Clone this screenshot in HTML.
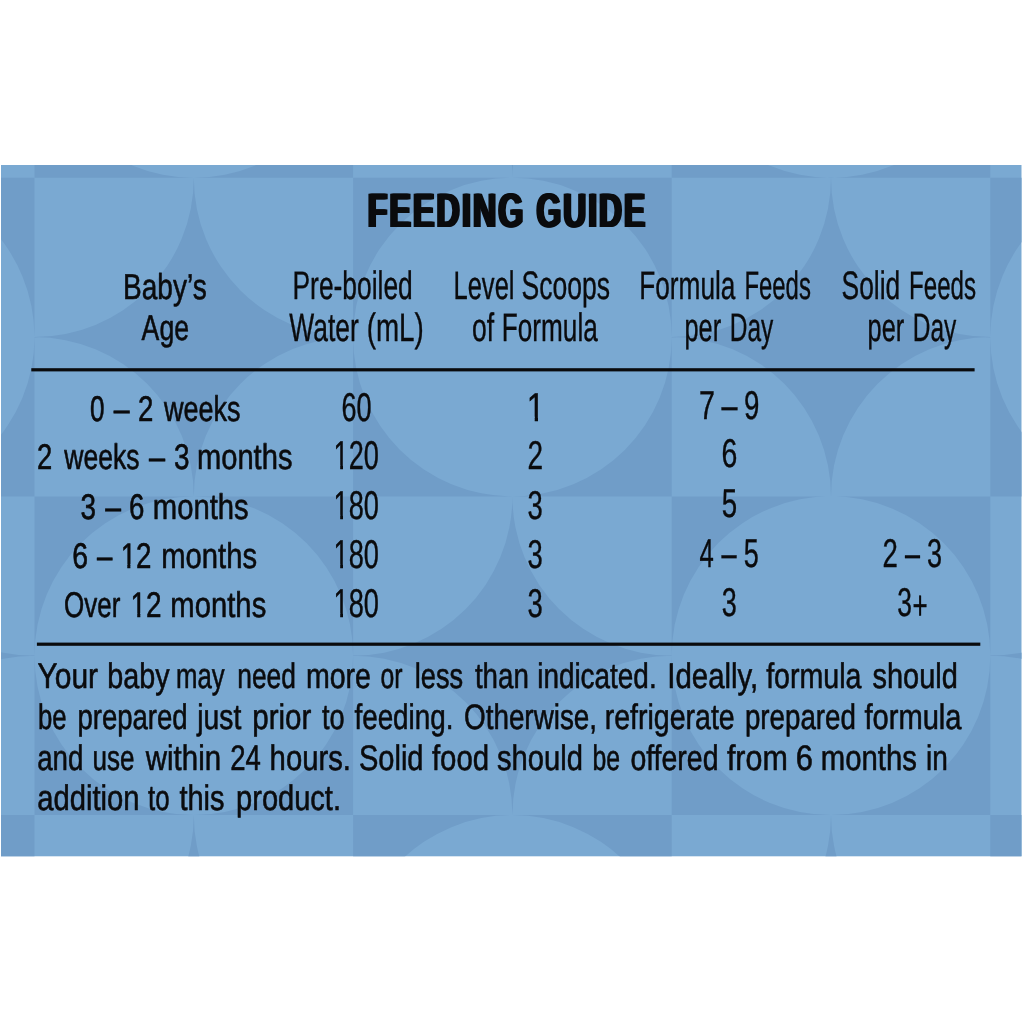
<!DOCTYPE html>
<html lang="en">
<head>
<meta charset="utf-8">
<title>Feeding Guide</title>
<style>
html,body{margin:0;padding:0;background:#fff;}
body{width:1024px;height:1024px;overflow:hidden;}
svg{display:block;font-family:"Liberation Sans",sans-serif;text-rendering:geometricPrecision;}
</style>
</head>
<body>
<svg width="1024" height="1024" viewBox="0 0 1024 1024">
<defs><clipPath id="panel"><rect x="1" y="165" width="1020.5" height="691.3"/></clipPath>
<clipPath id="ca4"><path clip-rule="evenodd" d="M0 507.7H1024V597.7H0ZM121.18 564.13H127.3V570.7H121.18ZM130.35 564.13H135.86V570.7H130.35Z"/></clipPath>
<clipPath id="ca5"><path clip-rule="evenodd" d="M0 556.8H1024V646.8H0ZM131.06 613.23H137.24V619.8H131.06ZM140.3 613.23H145.85V619.8H140.3Z"/></clipPath>
<clipPath id="cw2"><path clip-rule="evenodd" d="M0 408.7H1024V498.7H0ZM334.12 464.9H340.21V471.7H334.12ZM343.01 464.9H348.49V471.7H343.01Z"/></clipPath>
<clipPath id="cw3"><path clip-rule="evenodd" d="M0 458.5H1024V548.5H0ZM334.12 514.7H340.21V521.5H334.12ZM343.01 514.7H348.49V521.5H343.01Z"/></clipPath>
<clipPath id="cw4"><path clip-rule="evenodd" d="M0 507.7H1024V597.7H0ZM334.12 563.9H340.21V570.7H334.12ZM343.01 563.9H348.49V570.7H343.01Z"/></clipPath>
<clipPath id="cw5"><path clip-rule="evenodd" d="M0 556.8H1024V646.8H0ZM334.12 613H340.21V619.8H334.12ZM343.01 613H348.49V619.8H343.01Z"/></clipPath>
<clipPath id="cs1"><path clip-rule="evenodd" d="M0 360.6H1024V450.6H0ZM527.41 416.8H534.73V423.6H527.41ZM538 416.8H544.59V423.6H538Z"/></clipPath>
</defs>
<rect x="1" y="165" width="1020.5" height="691.3" fill="#7aa9d2"/>
<g clip-path="url(#panel)"><path fill="#709dc8" fill-rule="evenodd" d="M-124.8 -140.8A159.3 159.3 0 0 0 34.5 18.5A159.3 159.3 0 0 0 -124.8 177.8A159.3 159.3 0 0 0 -284.1 18.5A159.3 159.3 0 0 0 -124.8 -140.8ZM34.5 -140.8H353.1V177.8H34.5ZM34.5 18.5A159.3 159.3 0 1 0 353.1 18.5A159.3 159.3 0 1 0 34.5 18.5ZM512.4 -140.8A159.3 159.3 0 0 0 671.7 18.5A159.3 159.3 0 0 0 512.4 177.8A159.3 159.3 0 0 0 353.1 18.5A159.3 159.3 0 0 0 512.4 -140.8ZM671.7 -140.8H990.3V177.8H671.7ZM671.7 18.5A159.3 159.3 0 1 0 990.3 18.5A159.3 159.3 0 1 0 671.7 18.5ZM1149.6 -140.8A159.3 159.3 0 0 0 1308.9 18.5A159.3 159.3 0 0 0 1149.6 177.8A159.3 159.3 0 0 0 990.3 18.5A159.3 159.3 0 0 0 1149.6 -140.8ZM-284.1 177.8H34.5V496.4H-284.1ZM-284.1 337.1A159.3 159.3 0 1 0 34.5 337.1A159.3 159.3 0 1 0 -284.1 337.1ZM193.8 177.8A159.3 159.3 0 0 0 353.1 337.1A159.3 159.3 0 0 0 193.8 496.4A159.3 159.3 0 0 0 34.5 337.1A159.3 159.3 0 0 0 193.8 177.8ZM353.1 177.8H671.7V496.4H353.1ZM353.1 337.1A159.3 159.3 0 1 0 671.7 337.1A159.3 159.3 0 1 0 353.1 337.1ZM831 177.8A159.3 159.3 0 0 0 990.3 337.1A159.3 159.3 0 0 0 831 496.4A159.3 159.3 0 0 0 671.7 337.1A159.3 159.3 0 0 0 831 177.8ZM990.3 177.8H1308.9V496.4H990.3ZM990.3 337.1A159.3 159.3 0 1 0 1308.9 337.1A159.3 159.3 0 1 0 990.3 337.1ZM-124.8 496.4A159.3 159.3 0 0 0 34.5 655.7A159.3 159.3 0 0 0 -124.8 815A159.3 159.3 0 0 0 -284.1 655.7A159.3 159.3 0 0 0 -124.8 496.4ZM34.5 496.4H353.1V815H34.5ZM34.5 655.7A159.3 159.3 0 1 0 353.1 655.7A159.3 159.3 0 1 0 34.5 655.7ZM512.4 496.4A159.3 159.3 0 0 0 671.7 655.7A159.3 159.3 0 0 0 512.4 815A159.3 159.3 0 0 0 353.1 655.7A159.3 159.3 0 0 0 512.4 496.4ZM671.7 496.4H990.3V815H671.7ZM671.7 655.7A159.3 159.3 0 1 0 990.3 655.7A159.3 159.3 0 1 0 671.7 655.7ZM1149.6 496.4A159.3 159.3 0 0 0 1308.9 655.7A159.3 159.3 0 0 0 1149.6 815A159.3 159.3 0 0 0 990.3 655.7A159.3 159.3 0 0 0 1149.6 496.4ZM-284.1 815H34.5V1133.6H-284.1ZM-284.1 974.3A159.3 159.3 0 1 0 34.5 974.3A159.3 159.3 0 1 0 -284.1 974.3ZM193.8 815A159.3 159.3 0 0 0 353.1 974.3A159.3 159.3 0 0 0 193.8 1133.6A159.3 159.3 0 0 0 34.5 974.3A159.3 159.3 0 0 0 193.8 815ZM353.1 815H671.7V1133.6H353.1ZM353.1 974.3A159.3 159.3 0 1 0 671.7 974.3A159.3 159.3 0 1 0 353.1 974.3ZM831 815A159.3 159.3 0 0 0 990.3 974.3A159.3 159.3 0 0 0 831 1133.6A159.3 159.3 0 0 0 671.7 974.3A159.3 159.3 0 0 0 831 815ZM990.3 815H1308.9V1133.6H990.3ZM990.3 974.3A159.3 159.3 0 1 0 1308.9 974.3A159.3 159.3 0 1 0 990.3 974.3Z"/></g>
<g fill="#0b0b0d" stroke="#0b0b0d" stroke-width="0" stroke-linejoin="round" opacity="0.999">
<rect x="31.3" y="368.2" width="943.3" height="3.2"/><rect x="36.9" y="642.6" width="943.4" height="3.2"/>
<g style="filter:drop-shadow(1.25px 0 0 #0b0b0d) drop-shadow(-1.25px 0 0 #0b0b0d)"><text y="226.8" font-size="48.3" font-weight="bold" letter-spacing="3.14"><tspan x="368.31" textLength="157.51" lengthAdjust="spacingAndGlyphs">FEEDING</tspan> <tspan x="537.08" textLength="110.7" lengthAdjust="spacingAndGlyphs">GUIDE</tspan></text></g>
<text x="123.06" y="299" font-size="36" textLength="83.68" lengthAdjust="spacingAndGlyphs" stroke-width="0.6">Baby’s</text>
<text x="141.6" y="339.8" font-size="36" textLength="47.45" lengthAdjust="spacingAndGlyphs" stroke-width="0.6">Age</text>
<text x="292.49" y="299" font-size="39.8" textLength="120.32" lengthAdjust="spacingAndGlyphs" stroke-width="0.4">Pre-boiled</text>
<text y="341.1" font-size="39.8" stroke-width="0.4"><tspan x="289.32" textLength="69.41" lengthAdjust="spacingAndGlyphs">Water</tspan> <tspan x="366.63" textLength="57.09" lengthAdjust="spacingAndGlyphs">(mL)</tspan></text>
<text y="299" font-size="39.8" stroke-width="0.4"><tspan x="453.46" textLength="61.08" lengthAdjust="spacingAndGlyphs">Level</tspan> <tspan x="521.46" textLength="88.58" lengthAdjust="spacingAndGlyphs">Scoops</tspan></text>
<text y="341.1" font-size="39.8" stroke-width="0.4"><tspan x="471.94" textLength="22.1" lengthAdjust="spacingAndGlyphs">of</tspan> <tspan x="501.86" textLength="95.89" lengthAdjust="spacingAndGlyphs">Formula</tspan></text>
<text y="299" font-size="39.8" stroke-width="0.4"><tspan x="639.2" textLength="96.25" lengthAdjust="spacingAndGlyphs">Formula</tspan> <tspan x="744.39" textLength="66.5" lengthAdjust="spacingAndGlyphs">Feeds</tspan></text>
<text y="341.1" font-size="39.8" stroke-width="0.4"><tspan x="684.48" textLength="36.62" lengthAdjust="spacingAndGlyphs">per</tspan> <tspan x="729.74" textLength="43.48" lengthAdjust="spacingAndGlyphs">Day</tspan></text>
<text y="299" font-size="39.8" stroke-width="0.4"><tspan x="841.57" textLength="58.71" lengthAdjust="spacingAndGlyphs">Solid</tspan> <tspan x="908.97" textLength="67.12" lengthAdjust="spacingAndGlyphs">Feeds</tspan></text>
<text y="341.1" font-size="39.8" stroke-width="0.4"><tspan x="867.58" textLength="36.62" lengthAdjust="spacingAndGlyphs">per</tspan> <tspan x="912.84" textLength="43.48" lengthAdjust="spacingAndGlyphs">Day</tspan></text>
<text y="420.6" font-size="35.7" stroke-width="0.6"><tspan x="89.93" textLength="14.52" lengthAdjust="spacingAndGlyphs">0</tspan> <tspan x="113.7" textLength="15.89" lengthAdjust="spacingAndGlyphs">–</tspan> <tspan x="138.01" textLength="15.36" lengthAdjust="spacingAndGlyphs">2</tspan> <tspan x="163.9" textLength="76.53" lengthAdjust="spacingAndGlyphs">weeks</tspan></text>
<text y="468.7" font-size="35.7" stroke-width="0.6"><tspan x="37.02" textLength="15.24" lengthAdjust="spacingAndGlyphs">2</tspan> <tspan x="64.3" textLength="75.21" lengthAdjust="spacingAndGlyphs">weeks</tspan> <tspan x="149" textLength="16.09" lengthAdjust="spacingAndGlyphs">–</tspan> <tspan x="173.98" textLength="15.51" lengthAdjust="spacingAndGlyphs">3</tspan> <tspan x="196.96" textLength="95.49" lengthAdjust="spacingAndGlyphs">months</tspan></text>
<text y="518.5" font-size="35.7" stroke-width="0.6"><tspan x="80.48" textLength="15.51" lengthAdjust="spacingAndGlyphs">3</tspan> <tspan x="105.3" textLength="15.79" lengthAdjust="spacingAndGlyphs">–</tspan> <tspan x="129.11" textLength="15.38" lengthAdjust="spacingAndGlyphs">6</tspan> <tspan x="152.75" textLength="96.01" lengthAdjust="spacingAndGlyphs">months</tspan></text>
<text y="567.7" font-size="35.7" stroke-width="0.6" clip-path="url(#ca4)"><tspan x="72.17" textLength="15.85" lengthAdjust="spacingAndGlyphs">6</tspan> <tspan x="97.1" textLength="15.4" lengthAdjust="spacingAndGlyphs">–</tspan> <tspan x="120.63" textLength="30.83" lengthAdjust="spacingAndGlyphs">12</tspan> <tspan x="161.15" textLength="95.91" lengthAdjust="spacingAndGlyphs">months</tspan></text>
<text y="616.8" font-size="35.7" stroke-width="0.6" clip-path="url(#ca5)"><tspan x="64.09" textLength="56.37" lengthAdjust="spacingAndGlyphs">Over</tspan> <tspan x="130.51" textLength="31.06" lengthAdjust="spacingAndGlyphs">12</tspan> <tspan x="170.35" textLength="95.91" lengthAdjust="spacingAndGlyphs">months</tspan></text>
<text x="341.54" y="420.6" font-size="40.2" textLength="30.12" lengthAdjust="spacingAndGlyphs" stroke-width="0.4">60</text>
<text x="333.59" y="468.7" font-size="40.2" textLength="45.26" lengthAdjust="spacingAndGlyphs" stroke-width="0.4" clip-path="url(#cw2)">120</text>
<text x="333.59" y="518.5" font-size="40.2" textLength="45.26" lengthAdjust="spacingAndGlyphs" stroke-width="0.4" clip-path="url(#cw3)">180</text>
<text x="333.59" y="567.7" font-size="40.2" textLength="45.26" lengthAdjust="spacingAndGlyphs" stroke-width="0.4" clip-path="url(#cw4)">180</text>
<text x="333.59" y="616.8" font-size="40.2" textLength="45.26" lengthAdjust="spacingAndGlyphs" stroke-width="0.4" clip-path="url(#cw5)">180</text>
<text x="526.78" y="420.6" font-size="40.2" textLength="18.04" lengthAdjust="spacingAndGlyphs" stroke-width="0.4" clip-path="url(#cs1)">1</text>
<text x="527.39" y="468.7" font-size="40.2" textLength="15.6" lengthAdjust="spacingAndGlyphs" stroke-width="0.4">2</text>
<text x="527.6" y="518.5" font-size="40.2" textLength="15.28" lengthAdjust="spacingAndGlyphs" stroke-width="0.4">3</text>
<text x="527.6" y="567.7" font-size="40.2" textLength="15.28" lengthAdjust="spacingAndGlyphs" stroke-width="0.4">3</text>
<text x="527.6" y="616.8" font-size="40.2" textLength="15.28" lengthAdjust="spacingAndGlyphs" stroke-width="0.4">3</text>
<text y="419.2" font-size="40.2" stroke-width="0.4"><tspan x="698.96" textLength="15.96" lengthAdjust="spacingAndGlyphs">7</tspan> <tspan x="721.4" textLength="15.99" lengthAdjust="spacingAndGlyphs">–</tspan> <tspan x="743.91" textLength="15.38" lengthAdjust="spacingAndGlyphs">9</tspan></text>
<text x="721.47" y="467.1" font-size="40.2" textLength="15.85" lengthAdjust="spacingAndGlyphs" stroke-width="0.4">6</text>
<text x="721.69" y="517.3" font-size="40.2" textLength="15.39" lengthAdjust="spacingAndGlyphs" stroke-width="0.4">5</text>
<text y="566.8" font-size="40.2" stroke-width="0.4"><tspan x="699.39" textLength="14.27" lengthAdjust="spacingAndGlyphs">4</tspan> <tspan x="721.6" textLength="15.1" lengthAdjust="spacingAndGlyphs">–</tspan> <tspan x="743.82" textLength="15.04" lengthAdjust="spacingAndGlyphs">5</tspan></text>
<text x="721.82" y="615.7" font-size="40.2" textLength="15.04" lengthAdjust="spacingAndGlyphs" stroke-width="0.4">3</text>
<text y="566.8" font-size="40.2" stroke-width="0.4"><tspan x="882.41" textLength="15.36" lengthAdjust="spacingAndGlyphs">2</tspan> <tspan x="905.1" textLength="15" lengthAdjust="spacingAndGlyphs">–</tspan> <tspan x="927.12" textLength="15.04" lengthAdjust="spacingAndGlyphs">3</tspan></text>
<text y="615.7" font-size="40.2" stroke-width="0.4"><tspan x="897.34" textLength="14.69" lengthAdjust="spacingAndGlyphs">3</tspan><tspan x="912.49" dy="3.5" textLength="15.15" lengthAdjust="spacingAndGlyphs">+</tspan></text>
<text y="688.4" font-size="35.5" stroke-width="0.6"><tspan x="37.5" textLength="60.62" lengthAdjust="spacingAndGlyphs">Your</tspan> <tspan x="107.32" textLength="62.43" lengthAdjust="spacingAndGlyphs">baby</tspan> <tspan x="176.08" textLength="48.68" lengthAdjust="spacingAndGlyphs">may</tspan> <tspan x="237.29" textLength="58.61" lengthAdjust="spacingAndGlyphs">need</tspan> <tspan x="305.9" textLength="65.09" lengthAdjust="spacingAndGlyphs">more</tspan> <tspan x="380.56" textLength="22.03" lengthAdjust="spacingAndGlyphs">or</tspan> <tspan x="414.74" textLength="48.32" lengthAdjust="spacingAndGlyphs">less</tspan> <tspan x="474.93" textLength="53.92" lengthAdjust="spacingAndGlyphs">than</tspan> <tspan x="537.19" textLength="119.45" lengthAdjust="spacingAndGlyphs">indicated.</tspan> <tspan x="667.25" textLength="91.03" lengthAdjust="spacingAndGlyphs">Ideally,</tspan> <tspan x="766.17" textLength="95.37" lengthAdjust="spacingAndGlyphs">formula</tspan> <tspan x="872.53" textLength="85.36" lengthAdjust="spacingAndGlyphs">should</tspan></text>
<text y="728.9" font-size="35.5" stroke-width="0.6"><tspan x="38.05" textLength="28.65" lengthAdjust="spacingAndGlyphs">be</tspan> <tspan x="77.4" textLength="110.29" lengthAdjust="spacingAndGlyphs">prepared</tspan> <tspan x="197.3" textLength="43.98" lengthAdjust="spacingAndGlyphs">just</tspan> <tspan x="252.28" textLength="59.08" lengthAdjust="spacingAndGlyphs">prior</tspan> <tspan x="321.94" textLength="22.62" lengthAdjust="spacingAndGlyphs">to</tspan> <tspan x="354.43" textLength="99.08" lengthAdjust="spacingAndGlyphs">feeding.</tspan> <tspan x="464" textLength="133.1" lengthAdjust="spacingAndGlyphs">Otherwise,</tspan> <tspan x="604.65" textLength="130.07" lengthAdjust="spacingAndGlyphs">refrigerate</tspan> <tspan x="744.89" textLength="111.06" lengthAdjust="spacingAndGlyphs">prepared</tspan> <tspan x="864.41" textLength="97.13" lengthAdjust="spacingAndGlyphs">formula</tspan></text>
<text y="769.5" font-size="35.5" stroke-width="0.6"><tspan x="37.19" textLength="46.22" lengthAdjust="spacingAndGlyphs">and</tspan> <tspan x="92.49" textLength="41.98" lengthAdjust="spacingAndGlyphs">use</tspan> <tspan x="145.8" textLength="75.26" lengthAdjust="spacingAndGlyphs">within</tspan> <tspan x="230.26" textLength="30.64" lengthAdjust="spacingAndGlyphs">24</tspan> <tspan x="269.6" textLength="81.37" lengthAdjust="spacingAndGlyphs">hours.</tspan> <tspan x="358.94" textLength="64.6" lengthAdjust="spacingAndGlyphs">Solid</tspan> <tspan x="431.91" textLength="57.24" lengthAdjust="spacingAndGlyphs">food</tspan> <tspan x="497.02" textLength="85.88" lengthAdjust="spacingAndGlyphs">should</tspan> <tspan x="592.56" textLength="27.61" lengthAdjust="spacingAndGlyphs">be</tspan> <tspan x="630.41" textLength="88.05" lengthAdjust="spacingAndGlyphs">offered</tspan> <tspan x="726.89" textLength="60.88" lengthAdjust="spacingAndGlyphs">from</tspan> <tspan x="795.86" textLength="17.16" lengthAdjust="spacingAndGlyphs">6</tspan> <tspan x="820.85" textLength="96.06" lengthAdjust="spacingAndGlyphs">months</tspan> <tspan x="925.93" textLength="21.85" lengthAdjust="spacingAndGlyphs">in</tspan></text>
<text y="810.2" font-size="35.5" stroke-width="0.6"><tspan x="37.13" textLength="102.41" lengthAdjust="spacingAndGlyphs">addition</tspan> <tspan x="147.96" textLength="21.55" lengthAdjust="spacingAndGlyphs">to</tspan> <tspan x="179.41" textLength="45.09" lengthAdjust="spacingAndGlyphs">this</tspan> <tspan x="236.06" textLength="104.96" lengthAdjust="spacingAndGlyphs">product.</tspan></text>
</g>
</svg>
</body>
</html>
